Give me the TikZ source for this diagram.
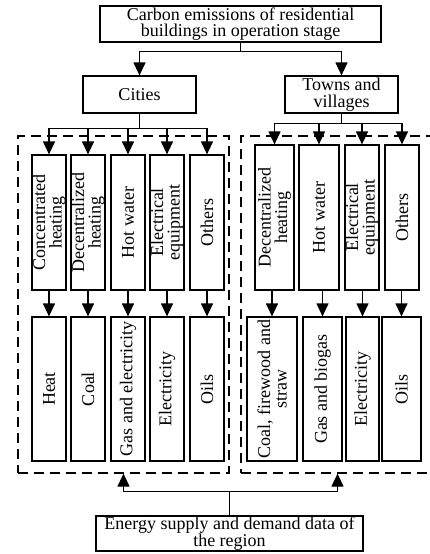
\documentclass[tikz,border=0pt]{standalone}
\usepackage{fontspec}
\setmainfont{Liberation Serif}
\usetikzlibrary{arrows.meta}

\tikzset{
  box/.style={draw,line width=1.2pt,inner sep=0pt,align=center,
    font=\fontsize{18}{16.5}\selectfont},
  vbox/.style={box,rotate=90},
  zone/.style={draw,line width=1.2pt,dash pattern=on 10pt off 6pt,inner sep=0pt}
}

\begin{document}
\begin{tikzpicture}[x=1pt,y=-1pt,>={Triangle[width=12pt,length=13pt]},line width=1.2pt]
  \useasboundingbox (0,0) rectangle (430,554);
  % dashed regions
  \node[zone,minimum width=211pt,minimum height=337pt] (cityzone) at (123.5,304.5) {};
  \node[zone,minimum width=193pt,minimum height=337pt] (townzone) at (337.5,304.5) {};
  % top levels
  \node[box,minimum width=281pt,minimum height=36pt] (top) at (240.5,24)
    {Carbon emissions of residential\\buildings in operation stage};
  \node[box,minimum width=113pt,minimum height=37pt] (cities) at (139.5,94.5) {Cities};
  \node[box,minimum width=113pt,minimum height=37pt] (towns) at (341.5,94.5) {Towns and\\villages};
  \draw[->] (top.south) -- ++(0,9) -| (cities.north);
  \draw[->] (top.south) -- ++(0,9) -| (towns.north);
  % cities: uses and energy (rotated boxes: east is up, west is down)
  \foreach \n/\x/\u/\e in {1/49/{Concentrated\\heating}/Heat,
      2/88/{Decentralized\\heating}/Coal,
      3/128/{Hot water}/{Gas and electricity},
      4/167/{Electrical\\equipment}/Electricity,
      5/207/Others/Oils} {
    \node[vbox,minimum width=135pt,minimum height=34pt] (c\n) at (\x,222.5) {\u};
    \node[vbox,minimum width=144pt,minimum height=34pt] (ce\n) at (\x,389) {\e};
    \draw[->] (cities.south) -- ++(0,15) -| (c\n.east);
    \draw[->] (c\n.west) -- (ce\n.east);
  }
  % towns and villages: uses
  \foreach \n/\x/\w/\u in {1/274.5/39/{Decentralized\\heating},
      2/319/40/{Hot water},
      3/362/34/{Electrical\\equipment},
      4/402/34/Others} {
    \node[vbox,minimum width=145pt,minimum height=\w pt] (t\n) at (\x,217.5) {\u};
    \draw[->] (towns.south) -- ++(0,10) -| (t\n.east);
  }
  % towns and villages: energy
  \foreach \n/\x/\w/\e in {1/272/50/{Coal, firewood and\\straw},
      2/322.5/39/{Gas and biogas},
      3/362.5/33/Electricity,
      4/401.5/39/Oils} {
    \node[vbox,minimum width=144pt,minimum height=\w pt] (te\n) at (\x,389) {\e};
    \draw[->] (te\n.east |- t\n.west) -- (te\n.east);
  }
  % data source
  \node[box,minimum width=267pt,minimum height=35pt] (bottom) at (229.5,533.5)
    {Energy supply and demand data of\\the region};
  \draw (bottom.north) -- ++(0,-24) coordinate (split);
  \draw[->] (split) -| (cityzone.south);
  \draw[->] (split) -| (townzone.south);
\end{tikzpicture}
\end{document}
